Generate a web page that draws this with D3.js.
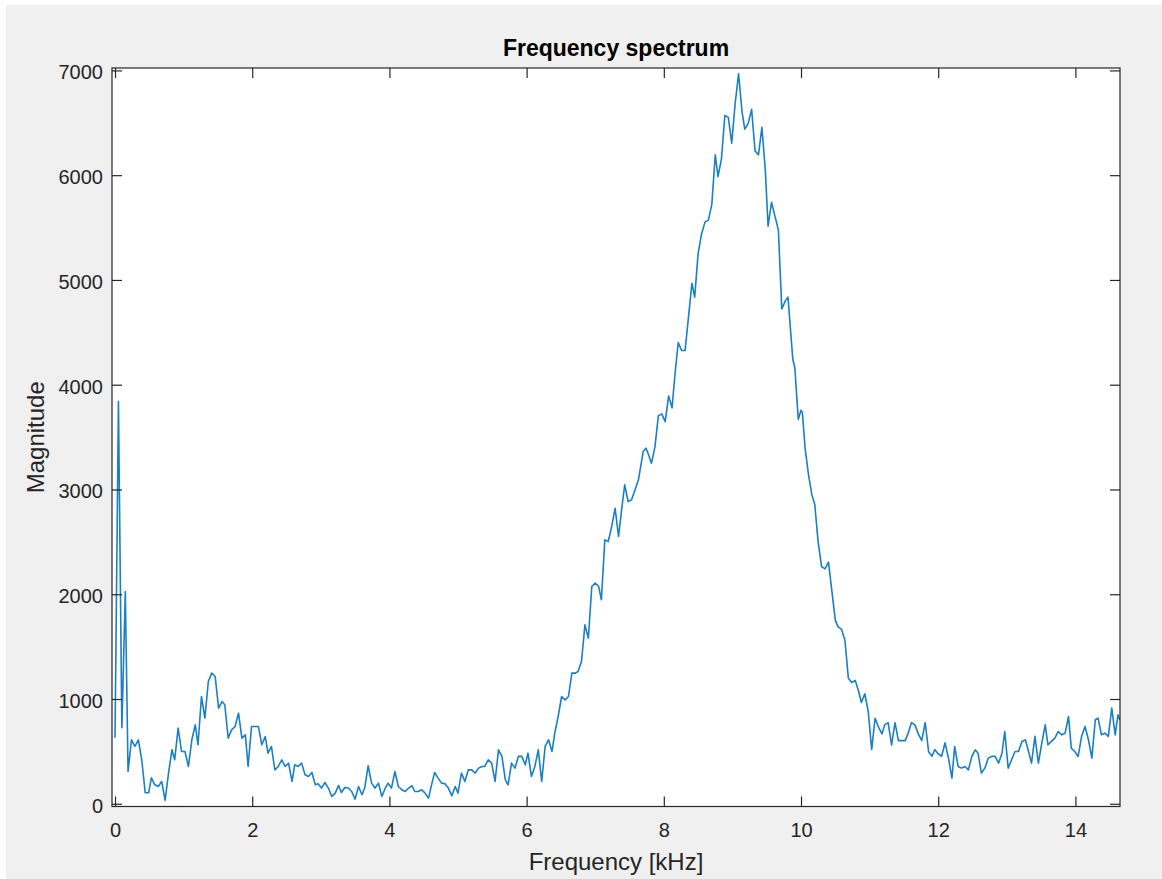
<!DOCTYPE html>
<html>
<head>
<meta charset="utf-8">
<script src="https://cdn.jsdelivr.net/npm/d3@7"></script>
<style>
  body { margin: 0; background: #ffffff; }
  svg { display: block; }
  text { font-family: "Liberation Sans", Arial, Helvetica, sans-serif; fill: #262626; }
</style>
</head>
<body>
<svg id="chart" width="1162" height="879"></svg>
<script>
// Spectrum samples: frequency (kHz) and magnitude
const freqKHz = [
  0.00,0.05,0.10,0.15,0.19,0.24,0.29,0.34,0.39,0.44,
  0.49,0.53,0.58,0.63,0.68,0.73,0.78,0.83,0.87,0.92,
  0.97,1.02,1.07,1.12,1.17,1.21,1.26,1.31,1.36,1.41,
  1.46,1.51,1.56,1.60,1.65,1.70,1.75,1.80,1.85,1.90,
  1.94,1.99,2.04,2.09,2.14,2.19,2.23,2.28,2.33,2.38,
  2.43,2.48,2.53,2.58,2.62,2.67,2.72,2.77,2.82,2.87,
  2.92,2.96,3.01,3.06,3.11,3.16,3.21,3.26,3.30,3.35,
  3.40,3.45,3.50,3.55,3.60,3.64,3.69,3.74,3.79,3.84,
  3.89,3.94,3.98,4.03,4.08,4.13,4.18,4.23,4.28,4.33,
  4.37,4.42,4.47,4.52,4.57,4.62,4.66,4.71,4.76,4.81,
  4.86,4.91,4.96,5.00,5.05,5.10,5.15,5.20,5.25,5.30,
  5.35,5.39,5.44,5.49,5.54,5.59,5.64,5.69,5.73,5.78,
  5.83,5.88,5.93,5.98,6.02,6.07,6.12,6.17,6.22,6.27,
  6.32,6.37,6.41,6.46,6.51,6.56,6.61,6.66,6.71,6.75,
  6.80,6.85,6.90,6.95,7.00,7.05,7.09,7.14,7.19,7.24,
  7.29,7.34,7.39,7.43,7.48,7.53,7.58,7.63,7.70,7.74,
  7.77,7.82,7.87,7.92,7.97,8.02,8.07,8.12,8.16,8.21,
  8.26,8.31,8.36,8.41,8.45,8.50,8.55,8.60,8.65,8.70,
  8.75,8.79,8.84,8.89,8.94,8.99,9.04,9.09,9.14,9.18,
  9.23,9.28,9.33,9.38,9.43,9.48,9.52,9.57,9.62,9.67,
  9.72,9.77,9.81,9.88,9.91,9.96,10.00,10.02,10.06,10.11,
  10.16,10.20,10.25,10.30,10.35,10.40,10.45,10.50,10.54,10.59,
  10.64,10.69,10.74,10.79,10.84,10.88,10.93,10.98,11.03,11.08,
  11.13,11.18,11.22,11.27,11.32,11.37,11.42,11.47,11.52,11.57,
  11.61,11.66,11.71,11.76,11.81,11.86,11.91,11.95,12.00,12.05,
  12.10,12.15,12.20,12.24,12.29,12.34,12.39,12.44,12.49,12.54,
  12.58,12.63,12.68,12.73,12.78,12.83,12.88,12.93,12.97,13.02,
  13.07,13.12,13.17,13.22,13.27,13.31,13.36,13.41,13.46,13.51,
  13.56,13.60,13.65,13.70,13.75,13.80,13.85,13.90,13.94,13.99,
  14.04,14.09,14.14,14.19,14.24,14.29,14.33,14.38,14.43,14.48,
  14.53,14.58,14.62,14.65
];
const magnitude = [
  630,3840,725,2026,308,611,547,611,420,105,
  105,248,181,165,213,32,293,515,420,722,
  499,499,356,611,754,563,1024,818,1167,1247,
  1215,913,976,945,627,706,738,865,627,658,
  356,738,738,738,563,642,484,547,324,356,
  420,356,388,213,372,356,388,277,261,299,
  181,191,150,203,150,70,102,175,108,156,
  150,117,45,165,86,150,363,197,150,197,
  70,150,197,150,308,165,134,117,150,172,
  117,117,134,102,54,197,299,245,197,191,
  150,76,165,102,293,213,324,324,293,340,
  356,356,420,388,213,515,452,229,181,388,
  340,452,452,372,483,261,356,515,213,547,
  611,499,674,833,1024,992,1024,1247,1247,1263,
  1358,1708,1581,2074,2106,2074,1947,2519,2503,2646,
  2821,2551,2837,3044,2885,2901,2996,3092,3364,3394,
  3345,3251,3402,3703,3722,3647,3892,3779,4081,4402,
  4326,4326,4647,4967,4836,5251,5439,5552,5571,5722,
  6194,5986,6156,6570,6552,6306,6684,6968,6609,6439,
  6495,6628,6232,6194,6458,6043,5514,5741,5609,5477,
  4723,4798,4836,4245,4160,3670,3756,3734,3393,3137,
  2946,2860,2498,2263,2242,2306,2030,1753,1689,1667,
  1561,1199,1157,1178,1072,966,1050,881,518,817,
  731,667,753,774,561,774,603,603,603,689,
  774,753,667,603,774,497,454,518,476,454,
  582,433,245,547,356,340,356,324,452,515,
  483,293,340,436,452,452,388,483,690,340,
  420,499,499,595,611,515,388,643,388,579,
  754,563,595,627,690,658,674,833,531,499,
  452,643,738,611,436,802,817,658,674,643,
  913,658,849,801
];

const xTickValues = [0, 2, 4, 6, 8, 10, 12, 14];
const yTickValues = [0, 1000, 2000, 3000, 4000, 5000, 6000, 7000];
const xLimits = [-0.044, 14.65];
const yLimits = [-26, 7023];

const titleText = "Frequency spectrum";
const xLabelText = "Frequency [kHz]";
const yLabelText = "Magnitude";

const svg = d3.select("#chart");

// Figure background
svg.append("rect")
  .attr("x", 6).attr("y", 5)
  .attr("width", 1156).attr("height", 874)
  .attr("fill", "#f0f0f0");

// Axes box geometry
const boxLeft = 112, boxTop = 68, boxRight = 1120, boxBottom = 806.5;

const x = d3.scaleLinear().domain(xLimits).range([boxLeft, boxRight]);
const y = d3.scaleLinear().domain(yLimits).range([boxBottom, boxTop]);

svg.append("rect")
  .attr("x", boxLeft).attr("y", boxTop)
  .attr("width", boxRight - boxLeft).attr("height", boxBottom - boxTop)
  .attr("fill", "#ffffff");

svg.append("clipPath").attr("id", "plot-clip")
  .append("rect")
  .attr("x", boxLeft).attr("y", boxTop)
  .attr("width", boxRight - boxLeft).attr("height", boxBottom - boxTop);

const points = freqKHz.map((f, i) => [f, magnitude[i]]);

svg.append("path")
  .datum(points)
  .attr("clip-path", "url(#plot-clip)")
  .attr("fill", "none")
  .attr("stroke", "#1a7fc4")
  .attr("stroke-width", 1.6)
  .attr("stroke-linejoin", "round")
  .attr("d", d3.line().x(d => x(d[0])).y(d => y(d[1])));

const axisColor = "#262626";
const tickLen = 10;

function styleAxis(g) {
  g.select(".domain").remove();
  g.selectAll(".tick line").attr("stroke", axisColor).attr("stroke-width", 1.2);
  g.selectAll(".tick text").attr("fill", axisColor).style("font-size", "20px");
}

// Bottom axis with labels
svg.append("g")
  .attr("transform", `translate(0,${boxBottom})`)
  .call(d3.axisBottom(x).tickValues(xTickValues).tickFormat(d3.format("d"))
    .tickSizeInner(-tickLen).tickSizeOuter(0).tickPadding(16))
  .call(styleAxis);

// Top axis ticks only
svg.append("g")
  .attr("transform", `translate(0,${boxTop})`)
  .call(d3.axisTop(x).tickValues(xTickValues).tickFormat("")
    .tickSizeInner(-tickLen).tickSizeOuter(0))
  .call(styleAxis);

// Left axis with labels
svg.append("g")
  .attr("transform", `translate(${boxLeft},0)`)
  .call(d3.axisLeft(y).tickValues(yTickValues).tickFormat(d3.format("d"))
    .tickSizeInner(-tickLen).tickSizeOuter(0).tickPadding(9))
  .call(styleAxis)
  .selectAll(".tick text").attr("dy", "0.42em");

// Right axis ticks only
svg.append("g")
  .attr("transform", `translate(${boxRight},0)`)
  .call(d3.axisRight(y).tickValues(yTickValues).tickFormat("")
    .tickSizeInner(-tickLen).tickSizeOuter(0))
  .call(styleAxis);

// Axes box outline
svg.append("rect")
  .attr("x", boxLeft).attr("y", boxTop)
  .attr("width", boxRight - boxLeft).attr("height", boxBottom - boxTop)
  .attr("fill", "none")
  .attr("stroke", axisColor)
  .attr("stroke-width", 1.2);

// Title and axis labels
svg.append("text")
  .attr("x", (boxLeft + boxRight) / 2).attr("y", 56)
  .attr("text-anchor", "middle")
  .style("font-size", "23px").style("font-weight", "bold")
  .style("fill", "#000000")
  .text(titleText);

svg.append("text")
  .attr("x", (boxLeft + boxRight) / 2).attr("y", 870)
  .attr("text-anchor", "middle")
  .style("font-size", "24px")
  .text(xLabelText);

svg.append("text")
  .attr("transform", `translate(44,${(boxTop + boxBottom) / 2}) rotate(-90)`)
  .attr("text-anchor", "middle")
  .style("font-size", "24px")
  .text(yLabelText);
</script>
</body>
</html>
